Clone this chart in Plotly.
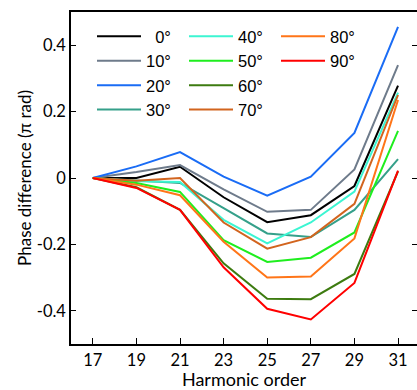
import plotly.graph_objects as go

harmonics = [17, 19, 21, 23, 25, 27, 29, 31]
angles = ["0°", "10°", "20°", "30°", "40°", "50°", "60°", "70°", "80°", "90°"]
phase_0 = [0, 0.0, 0.034, -0.058, -0.133, -0.112, -0.024, 0.278]
phase_10 = [0, 0.018, 0.039, -0.034, -0.102, -0.096, 0.026, 0.340]
phase_20 = [0, 0.035, 0.078, 0.004, -0.053, 0.004, 0.136, 0.455]
phase_30 = [0, -0.008, -0.015, -0.091, -0.167, -0.178, -0.096, 0.057]
phase_40 = [0, -0.010, -0.012, -0.126, -0.197, -0.134, -0.041, 0.257]
phase_50 = [0, -0.015, -0.042, -0.187, -0.253, -0.240, -0.164, 0.142]
phase_60 = [0, -0.028, -0.096, -0.257, -0.364, -0.365, -0.289, 0.020]
phase_70 = [0, -0.008, 0.0, -0.134, -0.213, -0.178, -0.078, 0.250]
phase_80 = [0, -0.020, -0.052, -0.192, -0.300, -0.297, -0.182, 0.235]
phase_90 = [0, -0.030, -0.096, -0.269, -0.394, -0.426, -0.316, 0.022]
series = [phase_0, phase_10, phase_20, phase_30, phase_40,
          phase_50, phase_60, phase_70, phase_80, phase_90]
colors = ["#000000", "#6E7B8B", "#1A6CF5", "#35A08A", "#3CF5D2",
          "#1EEE1E", "#3D7B10", "#D2641E", "#FF7518", "#FF0000"]
x_ticks = [17, 19, 21, 23, 25, 27, 29, 31]
y_ticks = [-0.4, -0.2, 0, 0.2, 0.4]
y_tick_text = ["-0.4", "-0.2", "0", "0.2", "0.4"]

W, H = 417, 390
ml, mr, mt, mb = 71, 0, 12, 46
pw = W - ml - mr
ph = H - mt - mb

legend_names = ["legend", "legend2", "legend3"]
fig = go.Figure()
for i, (name, vals, col) in enumerate(zip(angles, series, colors)):
    disp = ("\u2007" + name) if len(name) == 2 else name
    fig.add_trace(go.Scatter(
        x=harmonics, y=vals, mode="lines", name=disp,
        line=dict(color=col, width=2),
        legend=legend_names[i // 4],
    ))

# invisible trace to carry right-side mirrored ticks
fig.add_trace(go.Scatter(x=[harmonics[0]], y=[0], yaxis="y2", mode="lines",
                         showlegend=False, hoverinfo="skip",
                         line=dict(color="rgba(0,0,0,0)")))

axis_font = dict(family="Lato, Open Sans, sans-serif", size=16.5, color="#000")
leg_font = dict(family="Liberation Sans, Arial, sans-serif", size=16.5, color="#000")

def legx(px):
    return (px - ml) / pw

def legy(py):
    return 1 - (py - mt) / ph

common_leg = dict(font=leg_font, bgcolor="rgba(0,0,0,0)", yanchor="top",
                  xanchor="left", tracegroupgap=0, itemwidth=44,
                  orientation="v")
fig.update_layout(
    width=W, height=H,
    margin=dict(l=ml, r=mr, t=mt, b=mb, autoexpand=False),
    plot_bgcolor="white", paper_bgcolor="white",
    showlegend=True,
    legend=dict(x=legx(92), y=legy(19), **common_leg),
    legend2=dict(x=legx(184), y=legy(19), **common_leg),
    legend3=dict(x=legx(276), y=legy(19), **common_leg),
    xaxis=dict(
        range=[16.0, 31.87], tickvals=x_ticks, ticks="inside", ticklen=6,
        tickwidth=1.2, tickcolor="#000", showline=True, linecolor="#000",
        linewidth=1.5, mirror=True, showgrid=False, zeroline=False,
        tickfont=axis_font, automargin=False,
        title=dict(text="Harmonic order", font=dict(family=axis_font["family"], size=18, color="#000"), standoff=3),
    ),
    yaxis=dict(
        range=[-0.5, 0.5], tickvals=y_ticks, ticktext=y_tick_text,
        ticks="inside", ticklen=5, tickwidth=1.2, tickcolor="#000",
        showline=True, linecolor="#000", linewidth=1.5, showgrid=False,
        zeroline=False, tickfont=axis_font, automargin=False,
        title=dict(text="Phase difference (π rad)", font=dict(family=axis_font["family"], size=17, color="#000"), standoff=1),
    ),
    yaxis2=dict(
        range=[-0.5, 0.5], tickvals=y_ticks, overlaying="y", side="right",
        ticks="inside", ticklen=5, tickwidth=1.2, tickcolor="#000",
        showline=False, showgrid=False, zeroline=False, showticklabels=False,
        automargin=False,
    ),
)

fig.write_html("out.html", config={"displayModeBar": False},
               post_script="document.body.style.margin='0';document.body.style.padding='0';")
